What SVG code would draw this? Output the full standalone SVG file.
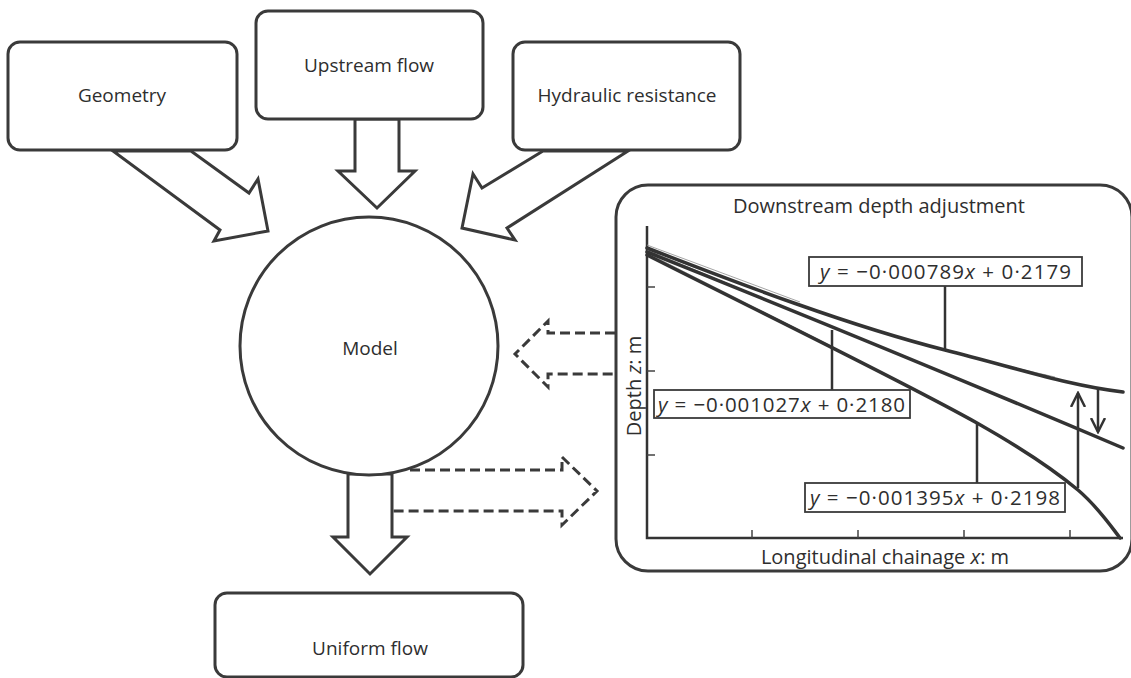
<svg xmlns="http://www.w3.org/2000/svg" width="1131" height="678" viewBox="0 0 1131 678">
  <defs>
    <style>
      .box { fill: #fff; stroke: #3a3a3a; stroke-width: 3; }
      .lbl { font-family: "Open Sans", "Noto Sans", "DejaVu Sans", sans-serif; font-size: 19px; fill: #2e2e2e; text-anchor: middle; }
      .plbl { font-size: 20px; }
      .blk { fill: #fff; stroke: #3a3a3a; stroke-width: 3; stroke-linejoin: miter; }
      .dash { fill: none; stroke: #3a3a3a; stroke-width: 3; stroke-dasharray: 10 5; }
      .axis { fill: none; stroke: #333; stroke-width: 2.5; }
      .tick { fill: none; stroke: #444; stroke-width: 1.5; }
      .curve { fill: none; stroke: #333; stroke-width: 3.5; stroke-linecap: round; }
      .fit { fill: none; stroke: #9a9a9a; stroke-width: 0.9; }
      .lead { fill: none; stroke: #333; stroke-width: 2.5; }
      .eqbox { fill: #fff; stroke: #3a3a3a; stroke-width: 1.8; }
      .eq { font-family: "Open Sans", "Noto Sans", "DejaVu Sans", sans-serif; font-size: 20.5px; fill: #2e2e2e; }
      .it { font-style: italic; }
    </style>
    <marker id="vhead" viewBox="0 0 16 16" refX="14" refY="8" markerWidth="16" markerHeight="16" markerUnits="userSpaceOnUse" orient="auto">
      <path d="M0,1 L14,8 L0,15" fill="none" stroke="#333" stroke-width="2.5"/>
    </marker>
  </defs>

  <rect width="1131" height="678" fill="#fff"/>

  <!-- Block arrows and dashed feedback arrows -->
  <g id="connectors">
    <polygon class="blk" points="113,151 191,151 249,193 258,179 268,231 214,241 220,230"/>
    <polygon class="blk" points="355,119 399,119 399,171 415,171 377,208 338,171 355,171"/>
    <polygon class="blk" points="543,151 628,151 507,228 515,240 462,228 473,174 482,188"/>
    <polygon class="blk" points="348,474 392,474 392,537 407,537 370,574 333,537 348,537"/>
    <!-- panel back to model -->
    <path class="dash" d="M615,333 L548,333 L548,321 L515,354 L548,387 L548,374 L615,374"/>
    <!-- model out to panel -->
    <path class="dash" d="M410,470 L562,470 L562,457 L597,491 L562,525 L562,511 L392,511"/>
  </g>

  <g id="node-geometry">
    <rect class="box" x="8" y="42" width="229" height="108" rx="12"/>
    <text class="lbl" x="122" y="102">Geometry</text>
  </g>

  <g id="node-upstream">
    <rect class="box" x="256" y="11" width="227" height="108" rx="12"/>
    <text class="lbl" x="369" y="72">Upstream flow</text>
  </g>

  <g id="node-hydraulic">
    <rect class="box" x="513" y="42" width="227" height="108" rx="12"/>
    <text class="lbl" x="627" y="102">Hydraulic resistance</text>
  </g>

  <g id="node-model">
    <circle class="box" cx="369" cy="346" r="129"/>
    <text class="lbl" x="370" y="355">Model</text>
  </g>

  <g id="node-uniform">
    <rect class="box" x="215" y="593" width="308" height="84" rx="12"/>
    <text class="lbl" x="370" y="655">Uniform flow</text>
  </g>

  <g id="node-depth-panel">
    <rect class="box" x="616" y="185" width="516" height="386" rx="32" stroke-width="3.5"/>
    <text class="lbl plbl" x="879" y="213">Downstream depth adjustment</text>

    <!-- axes and ticks -->
    <path class="axis" d="M647,226 L647,538 L1123,538"/>
    <path class="tick" d="M647,287 h8 M647,371 h8 M647,455 h8 M752,538 v-8 M858,538 v-8 M964,538 v-8 M1070,538 v-8"/>
    <text class="lbl plbl" transform="translate(641,386) rotate(-90)">Depth <tspan class="it">z</tspan>: m</text>
    <text class="lbl plbl" x="885" y="564">Longitudinal chainage <tspan class="it">x</tspan>: m</text>

    <!-- straight-line fits, visible where they run alongside the profiles -->
    <path class="fit" d="M647,245 L800,302 M985,361 L1055,377"/>
    <path class="fit" d="M647,250 L760,297"/>
    <path class="fit" d="M647,253 L835,348 M1035,458 L1072,485"/>

    <!-- computed water-surface profiles -->
    <path class="curve" d="M647,248 C740,284 850,326 945,350 C1020,369 1070,386 1123,392"/>
    <path class="curve" d="M647,252 Q880,345 1123,448"/>
    <path class="curve" d="M647,255 C760,312 900,380 977,423 C1030,453 1060,475 1078,490 C1098,507 1110,525 1120,538"/>

    <!-- depth change arrows -->
    <line class="lead" x1="1078" y1="488" x2="1078" y2="393" marker-end="url(#vhead)"/>
    <line class="lead" x1="1098" y1="388" x2="1098" y2="432" marker-end="url(#vhead)"/>

    <!-- leaders -->
    <line class="lead" x1="945" y1="286" x2="945" y2="350"/>
    <line class="lead" x1="832" y1="330" x2="832" y2="390"/>
    <line class="lead" x1="977" y1="423" x2="977" y2="483" stroke-width="1.8"/>

    <!-- equation labels -->
    <rect class="eqbox" x="809" y="257" width="273" height="29"/>
    <text class="eq" x="820" y="279" textLength="251" lengthAdjust="spacing"><tspan class="it">y</tspan> = −0·000789<tspan class="it">x</tspan> + 0·2179</text>
    <rect class="eqbox" x="654" y="390" width="256" height="28"/>
    <text class="eq" x="658" y="412" textLength="247" lengthAdjust="spacing"><tspan class="it">y</tspan> = −0·001027<tspan class="it">x</tspan> + 0·2180</text>
    <rect class="eqbox" x="805" y="483" width="260" height="29"/>
    <text class="eq" x="810" y="505" textLength="250" lengthAdjust="spacing"><tspan class="it">y</tspan> = −0·001395<tspan class="it">x</tspan> + 0·2198</text>
  </g>
</svg>
